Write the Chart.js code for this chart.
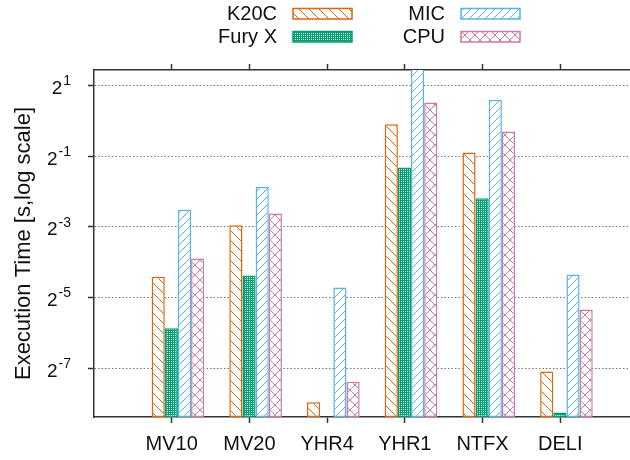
<!DOCTYPE html>
<html>
<head>
<meta charset="utf-8">
<script src="https://cdn.jsdelivr.net/npm/chart.js@4/dist/chart.umd.min.js"></script>
<style>
  body { margin: 0; background: #fff; }
  #chart { display: block; }
</style>
</head>
<body>
<canvas id="chart" width="630" height="460"></canvas>
<script>
// Benchmarks on the x axis
const categories = ['MV10', 'MV20', 'YHR4', 'YHR1', 'NTFX', 'DELI'];

// Execution time in seconds
const k20c  = [0.047, 0.129, 0.0040, 0.93, 0.536, 0.00733];
const furyX = [0.0171, 0.048, null, 0.40, 0.219, 0.00328];
const mic   = [0.174, 0.272, 0.038, 3.0, 1.51, 0.049];
const cpu   = [0.067, 0.162, 0.0060, 1.43, 0.81, 0.0247];

const seriesNames = ['K20C', 'Fury X', 'MIC', 'CPU'];
const seriesColors = ['#e0640a', '#009e73', '#56b4e9', '#cc79a7'];
const seriesHatch = ['back', 'dots', 'slash', 'cross'];

// y ticks are powers of two, label = base + exponent
const yTickExponents = [-7, -5, -3, -1, 1];
const yTickValues = yTickExponents.map(e => Math.pow(2, e));
const yTickBase = '2';
const yTickPowers = ['-7', '-5', '-3', '-1', '1'];

const FONT = '"Liberation Sans", Arial, sans-serif';
const AXIS_COLOR = '#333';

function makePattern(kind, color) {
  const size = kind === 'dots' ? 4 : (kind === 'slash' ? 8 : 10);
  const tile = document.createElement('canvas');
  tile.width = size;
  tile.height = size;
  const g = tile.getContext('2d');
  g.fillStyle = '#fff';
  g.fillRect(0, 0, size, size);

  if (kind === 'dots') {
    g.fillStyle = color;
    g.fillRect(0, 0, size, size);
    g.fillStyle = '#e0f3ec';
    g.fillRect(1, 1, 1, 1);
    g.fillRect(3, 3, 1, 1);
    g.fillRect(3, 1, 1, 1);
    g.fillRect(1, 3, 1, 1);
    return g.createPattern(tile, 'repeat');
  }

  g.strokeStyle = color;
  g.lineWidth = 1;
  function seg(x1, y1, x2, y2) {
    g.beginPath();
    g.moveTo(x1, y1);
    g.lineTo(x2, y2);
    g.stroke();
  }
  if (kind === 'back' || kind === 'cross') {
    seg(-1, -1, size + 1, size + 1);
    seg(-2, size - 2, 2, size + 2);
    seg(size - 2, -2, size + 2, 2);
  }
  if (kind === 'slash' || kind === 'cross') {
    seg(-1, size + 1, size + 1, -1);
    seg(-2, 2, 2, -2);
    seg(size - 2, size + 2, size + 2, size - 2);
  }
  return g.createPattern(tile, 'repeat');
}

// gnuplot style key: label on the left, swatch on the right, two columns
const hatchLegend = {
  id: 'hatchLegend',
  afterDraw(chart) {
    const ctx = chart.ctx;
    const textRight = [277, 445];
    const rowMid = [13.5, 36.5];
    ctx.save();
    ctx.font = '20px ' + FONT;
    ctx.textAlign = 'right';
    ctx.textBaseline = 'middle';
    chart.data.datasets.forEach(function(ds, i) {
      const col = Math.floor(i / 2);
      const row = i % 2;
      const x = textRight[col];
      const y = rowMid[row];
      ctx.fillStyle = '#111';
      ctx.fillText(ds.label, x, y + 1);
      ctx.fillStyle = ds.backgroundColor;
      ctx.fillRect(x + 16, y - 5, 59, 10.5);
      ctx.strokeStyle = ds.borderColor;
      ctx.lineWidth = 1.5;
      ctx.strokeRect(x + 16, y - 5, 59, 10.5);
    });
    ctx.restore();
  }
};

// tick labels like 2^-3 with a raised, smaller exponent
const powerTicks = {
  id: 'powerTicks',
  afterDraw(chart) {
    const scale = chart.scales.y;
    const ctx = chart.ctx;
    const right = scale.right - 23;
    ctx.save();
    ctx.fillStyle = '#111';
    ctx.textAlign = 'right';
    ctx.textBaseline = 'middle';
    scale.ticks.forEach(function(tick, i) {
      const y = scale.getPixelForValue(tick.value);
      ctx.font = '14px ' + FONT;
      const expWidth = ctx.measureText(yTickPowers[i]).width;
      ctx.fillText(yTickPowers[i], right, y - 4);
      ctx.font = '19px ' + FONT;
      ctx.fillText(yTickBase, right - expWidth - 1, y + 3.5);
    });
    ctx.restore();
  }
};

function xAxisTicks(scale) {
  scale.ticks = categories.map((c, i) => ({ value: i }));
}

const seriesValues = [k20c, furyX, mic, cpu];
const datasets = seriesNames.map(function(name, i) {
  return {
    label: name,
    data: seriesValues[i].map((v, j) => ({ x: j, y: v })),
    backgroundColor: makePattern(seriesHatch[i], seriesColors[i]),
    borderColor: seriesColors[i],
    borderWidth: 1.5,
    borderSkipped: false,
    xAxisID: 'xb',
    yAxisID: 'y',
    categoryPercentage: 0.677,
    barPercentage: 1.0
  };
});

Chart.defaults.font.family = FONT;
Chart.defaults.color = '#111';

new Chart(document.getElementById('chart').getContext('2d'), {
  type: 'bar',
  data: { datasets: datasets },
  plugins: [hatchLegend, powerTicks],
  options: {
    responsive: false,
    animation: false,
    layout: { padding: { top: 0, right: 1, bottom: 0, left: 0 } },
    plugins: {
      legend: { display: false },
      tooltip: { enabled: false }
    },
    scales: {
      // hidden axis that places the bar clusters, slightly right of the ticks
      xb: {
        type: 'linear',
        display: false,
        min: -1.08,
        max: 5.805,
        offset: false,
        afterBuildTicks: xAxisTicks,
        grid: { offset: false }
      },
      x: {
        type: 'linear',
        position: 'bottom',
        min: -1,
        max: 5.885,
        offset: false,
        afterBuildTicks: xAxisTicks,
        afterFit: function(scale) { scale.height = 43; },
        grid: {
          offset: false,
          drawOnChartArea: false,
          drawTicks: true,
          tickLength: 6,
          tickWidth: 1.5,
          tickColor: AXIS_COLOR
        },
        border: { color: AXIS_COLOR, width: 1.5 },
        ticks: {
          padding: 9,
          maxRotation: 0,
          autoSkip: false,
          font: { size: 20 },
          callback: function(value) { return categories[value]; }
        }
      },
      xTop: {
        type: 'linear',
        position: 'top',
        min: -1,
        max: 5.885,
        offset: false,
        afterBuildTicks: xAxisTicks,
        afterFit: function(scale) { scale.height = 70; },
        grid: {
          offset: false,
          drawOnChartArea: false,
          drawTicks: true,
          tickLength: 6,
          tickWidth: 1.5,
          tickColor: AXIS_COLOR
        },
        border: { color: AXIS_COLOR, width: 1.5 },
        ticks: { display: false }
      },
      y: {
        type: 'logarithmic',
        position: 'left',
        min: 0.003,
        max: 2.7,
        beginAtZero: false,
        afterBuildTicks: function(scale) {
          scale.ticks = yTickValues.map(v => ({ value: v }));
        },
        afterFit: function(scale) { scale.width = 94; },
        grid: {
          color: '#777',
          lineWidth: 1,
          drawTicks: true,
          tickLength: 6,
          tickWidth: 1.5,
          tickColor: AXIS_COLOR,
          tickBorderDash: []
        },
        border: { color: AXIS_COLOR, width: 1.5, dash: [1.5, 2] },
        ticks: { display: false },
        title: {
          display: true,
          text: 'Execution Time [s,log scale]',
          font: { size: 22 },
          padding: { top: 11, bottom: 0 }
        }
      }
    }
  }
});
</script>
</body>
</html>
